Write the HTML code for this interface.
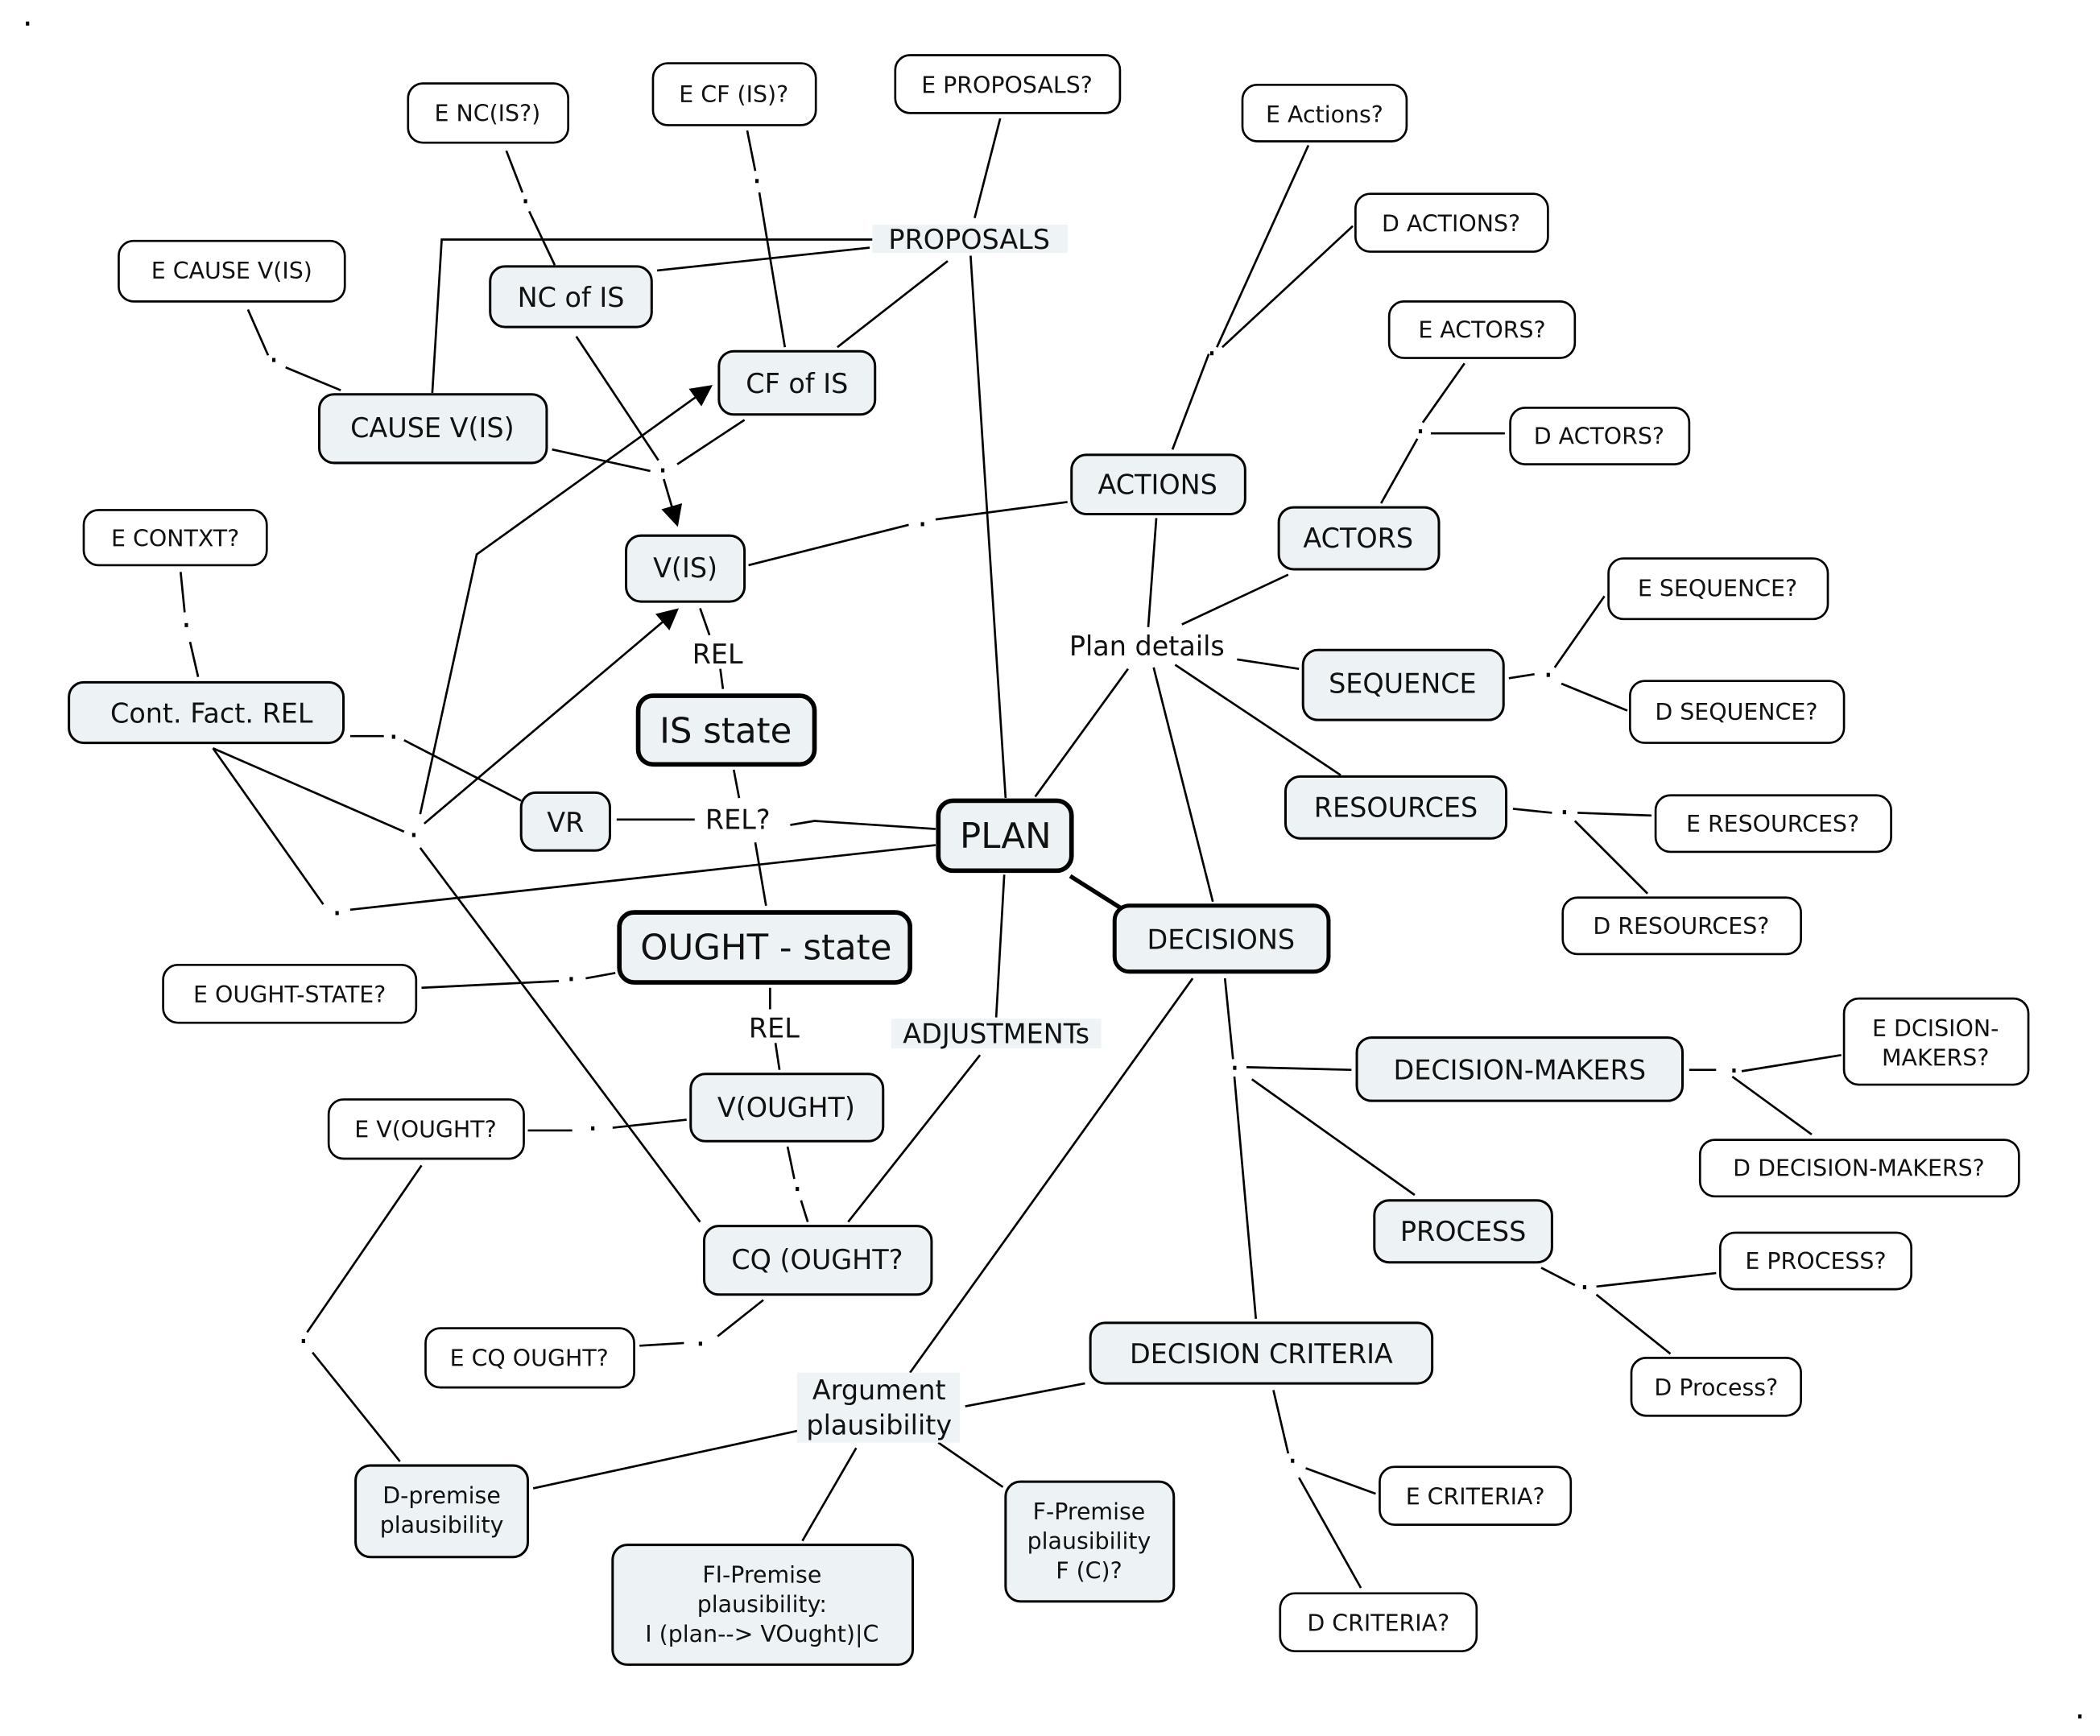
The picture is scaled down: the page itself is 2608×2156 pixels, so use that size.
<!DOCTYPE html>
<html><head><meta charset="utf-8"><style>
html,body{margin:0;padding:0;background:#fff;}
svg{display:block;}
text{font-family:"DejaVu Sans","Liberation Sans",sans-serif;fill:#111;}
</style></head><body>
<svg width="2608" height="2156" viewBox="0 0 1560 1290" xmlns="http://www.w3.org/2000/svg">
<defs><marker id="ar" viewBox="0 0 10 10" refX="9" refY="5" markerWidth="10" markerHeight="10" markerUnits="userSpaceOnUse" orient="auto"><path d="M0,0 L10,5 L0,10 z" fill="#000"/></marker>
<marker id="ar2" viewBox="0 0 10 10" refX="9" refY="5" markerWidth="22" markerHeight="16" markerUnits="userSpaceOnUse" orient="auto"><path d="M0,0 L10,5 L0,10 z" fill="#000"/></marker></defs>
<g stroke="#000" stroke-width="1.6" fill="none">
<path d="M376,112 L388,143 M393,157 L412,197"/>
<path d="M555,97 L561,127 M564,143 L583,258"/>
<path d="M743,88 L724,162"/>
<path d="M648,178 L328,178 L321,292"/>
<path d="M646,184 L488,201"/>
<path d="M704,194 L622,258"/>
<path d="M721,190 L747,593"/>
<path d="M184,230 L199,264 M212,273 L253,290"/>
<path d="M428,250 L489,342"/>
<path d="M410,334 L483,350"/>
<path d="M553,312 L503,345"/>
<path d="M493,356 L503,390" marker-end="url(#ar2)"/>
<path d="M312,605 L354,412 L528,287" marker-end="url(#ar2)"/>
<path d="M315,612 L503,453" marker-end="url(#ar2)"/>
<path d="M158,556 L300,618"/>
<path d="M260,547 L285,547 M300,550 L387,595"/>
<path d="M158,556 L240,672 M260,676 L695,628"/>
<path d="M312,630 L520,908"/>
<path d="M134,425 L137,455 M141,477 L147,503"/>
<path d="M556,420 L675,390 M695,386 L793,373"/>
<path d="M520,452 L527,472 M535,497 L537,512"/>
<path d="M545,572 L549,593 M561,626 L569,673"/>
<path d="M458,609 L516,609 M587,613 L605,610 L695,616"/>
<path d="M795,651 L833,675" stroke-width="3.2"/>
<path d="M769,592 L838,497"/>
<path d="M853,466 L859,385"/>
<path d="M878,464 L957,427"/>
<path d="M919,490 L965,497"/>
<path d="M873,494 L996,576"/>
<path d="M857,496 L901,670"/>
<path d="M871,334 L898,263 M904,258 L972,108 M908,258 L1005,168"/>
<path d="M1026,374 L1053,326 M1057,314 L1088,270 M1063,322 L1118,322"/>
<path d="M1121,504 L1140,501 M1155,496 L1192,443 M1160,508 L1209,528"/>
<path d="M1124,601 L1153,604 M1172,604 L1227,606 M1170,610 L1224,664"/>
<path d="M746,650 L740,756 M728,784 L630,908"/>
<path d="M572,734 L572,750 M576,775 L579,795"/>
<path d="M457,723 L435,727 M415,729 L313,734"/>
<path d="M510,832 L455,838 M425,840 L392,840"/>
<path d="M585,852 L590,876 M595,892 L600,908"/>
<path d="M567,966 L533,993 M508,998 L475,1000"/>
<path d="M313,866 L228,990 M232,1005 L297,1086"/>
<path d="M886,727 L676,1020"/>
<path d="M910,727 L916,787 M926,793 L1004,795 M930,802 L1051,888 M917,800 L933,980"/>
<path d="M1255,795 L1275,795 M1294,796 L1368,784 M1287,800 L1346,843"/>
<path d="M1145,942 L1170,955 M1186,956 L1275,946 M1186,962 L1241,1006"/>
<path d="M946,1033 L957,1080 M970,1091 L1022,1110 M965,1098 L1011,1180"/>
<path d="M717,1045 L806,1028 M598,1062 L396,1106 M636,1076 L596,1145 M697,1072 L745,1105"/>
</g>
<g fill="#000">
<rect x="389" y="148" width="2.5" height="3"/><rect x="561" y="133" width="2.5" height="3"/>
<rect x="202" y="266" width="2.5" height="3"/><rect x="491" y="348" width="2.5" height="3"/>
<rect x="306" y="619" width="2.5" height="3"/><rect x="291" y="546" width="2.5" height="3"/>
<rect x="249" y="677" width="2.5" height="3"/><rect x="137" y="463" width="2.5" height="3"/>
<rect x="684" y="388" width="2.5" height="3"/><rect x="899" y="261" width="2.5" height="3"/>
<rect x="1054" y="319" width="2.5" height="3"/><rect x="1149" y="500" width="2.5" height="3"/>
<rect x="1161" y="602" width="2.5" height="3"/><rect x="423" y="726" width="2.5" height="3"/>
<rect x="439" y="837" width="2.5" height="3"/><rect x="591" y="882" width="2.5" height="3"/>
<rect x="519" y="997" width="2.5" height="3"/><rect x="224" y="995" width="2.5" height="3"/>
<rect x="916" y="792" width="2.5" height="3"/><rect x="1287" y="794" width="2.5" height="3"/>
<rect x="1176" y="955" width="2.5" height="3"/><rect x="959" y="1084" width="2.5" height="3"/>
<rect x="19" y="16" width="2.5" height="3"/><rect x="1544" y="1274" width="2.5" height="3"/>
</g>
<!-- label backgrounds -->
<rect x="648" y="167" width="145" height="21" fill="#eef3f5"/>
<rect x="662" y="757" width="156" height="22" fill="#eef3f5"/>
<rect x="592" y="1020" width="121" height="52" fill="#eef3f5"/>
<g stroke="#000" stroke-width="1.6" fill="#fff">
<rect x="303" y="62" width="119" height="44" rx="11"/>
<rect x="485" y="47" width="121" height="46" rx="11"/>
<rect x="665" y="41" width="167" height="43" rx="11"/>
<rect x="923" y="63" width="122" height="42" rx="11"/>
<rect x="1007" y="144" width="143" height="43" rx="11"/>
<rect x="88" y="179" width="168" height="45" rx="11"/>
<rect x="1032" y="224" width="138" height="42" rx="11"/>
<rect x="1122" y="303" width="133" height="42" rx="11"/>
<rect x="62" y="379" width="136" height="41" rx="11"/>
<rect x="1195" y="415" width="163" height="45" rx="11"/>
<rect x="1211" y="506" width="159" height="46" rx="11"/>
<rect x="1230" y="591" width="175" height="42" rx="11"/>
<rect x="1161" y="667" width="177" height="42" rx="11"/>
<rect x="121" y="717" width="188" height="43" rx="11"/>
<rect x="1370" y="742" width="137" height="64" rx="11"/>
<rect x="244" y="817" width="145" height="44" rx="11"/>
<rect x="1263" y="847" width="237" height="42" rx="11"/>
<rect x="1278" y="916" width="142" height="42" rx="11"/>
<rect x="316" y="987" width="155" height="44" rx="11"/>
<rect x="1212" y="1009" width="126" height="43" rx="11"/>
<rect x="1025" y="1090" width="142" height="43" rx="11"/>
<rect x="951" y="1184" width="146" height="43" rx="11"/>
</g>
<g stroke="#000" stroke-width="1.8" fill="#edf3f5">
<rect x="364" y="198" width="120" height="45" rx="11"/>
<rect x="534" y="261" width="116" height="47" rx="11"/>
<rect x="237" y="293" width="169" height="51" rx="11"/>
<rect x="796" y="338" width="129" height="44" rx="11"/>
<rect x="950" y="377" width="119" height="46" rx="11"/>
<rect x="465" y="398" width="88" height="49" rx="11"/>
<rect x="968" y="483" width="149" height="52" rx="11"/>
<rect x="51" y="507" width="204" height="45" rx="11"/>
<rect x="955" y="577" width="164" height="46" rx="11"/>
<rect x="387" y="589" width="66" height="43" rx="11"/>
<rect x="1008" y="771" width="242" height="47" rx="11"/>
<rect x="513" y="798" width="143" height="50" rx="11"/>
<rect x="1021" y="892" width="132" height="46" rx="11"/>
<rect x="523" y="911" width="169" height="51" rx="11"/>
<rect x="810" y="983" width="254" height="45" rx="11"/>
<rect x="264" y="1089" width="128" height="68" rx="11"/>
<rect x="747" y="1101" width="125" height="89" rx="11"/>
<rect x="455" y="1148" width="223" height="89" rx="11"/>
</g>
<g stroke="#000" stroke-width="3.4" fill="#edf3f5">
<rect x="474" y="517" width="131" height="51" rx="11"/>
<rect x="697" y="595" width="99" height="52" rx="11"/>
<rect x="828" y="673" width="159" height="49" rx="11" stroke-width="3"/>
<rect x="460" y="678" width="216" height="52" rx="11"/>
</g>
<g font-size="17" text-anchor="middle">
<text x="362" y="90">E NC(IS?)</text>
<text x="545" y="76">E CF (IS)?</text>
<text x="748" y="69">E PROPOSALS?</text>
<text x="984" y="91">E Actions?</text>
<text x="1078" y="172">D ACTIONS?</text>
<text x="172" y="207">E  CAUSE V(IS)</text>
<text x="1101" y="251">E  ACTORS?</text>
<text x="1188" y="330">D ACTORS?</text>
<text x="130" y="406">E  CONTXT?</text>
<text x="1276" y="443">E SEQUENCE?</text>
<text x="1290" y="535">D SEQUENCE?</text>
<text x="1317" y="618">E RESOURCES?</text>
<text x="1249" y="694">D RESOURCES?</text>
<text x="215" y="745">E OUGHT-STATE?</text>
<text x="1438" y="770">E DCISION-</text>
<text x="1438" y="792">MAKERS?</text>
<text x="316" y="845">E V(OUGHT?</text>
<text x="1381" y="874">D DECISION-MAKERS?</text>
<text x="1349" y="943">E PROCESS?</text>
<text x="393" y="1015">E CQ OUGHT?</text>
<text x="1275" y="1037">D Process?</text>
<text x="1096" y="1118">E CRITERIA?</text>
<text x="1024" y="1212">D CRITERIA?</text>
<text x="328" y="1117">D-premise</text>
<text x="328" y="1139">plausibility</text>
<text x="809" y="1129">F-Premise</text>
<text x="809" y="1151">plausibility</text>
<text x="809" y="1173">F (C)?</text>
<text x="566" y="1176">FI-Premise</text>
<text x="566" y="1198">plausibility:</text>
<text x="566" y="1220">I (plan--&gt; VOught)|C</text>
</g>
<g font-size="20" text-anchor="middle">
<text x="720" y="185">PROPOSALS</text>
<text x="424" y="228">NC of IS</text>
<text x="592" y="292">CF of IS</text>
<text x="321" y="325">CAUSE V(IS)</text>
<text x="860" y="367">ACTIONS</text>
<text x="1009" y="407">ACTORS</text>
<text x="509" y="429">V(IS)</text>
<text x="852" y="487">Plan details</text>
<text x="533" y="493">REL</text>
<text x="1042" y="515">SEQUENCE</text>
<text x="157" y="537">Cont. Fact. REL</text>
<text x="1037" y="607">RESOURCES</text>
<text x="420" y="618">VR</text>
<text x="548" y="616">REL?</text>
<text x="907" y="705">DECISIONS</text>
<text x="575" y="771">REL</text>
<text x="740" y="775">ADJUSTMENTs</text>
<text x="1129" y="802">DECISION-MAKERS</text>
<text x="584" y="830">V(OUGHT)</text>
<text x="1087" y="922">PROCESS</text>
<text x="607" y="943">CQ (OUGHT?</text>
<text x="937" y="1013">DECISION CRITERIA</text>
<text x="653" y="1040">Argument</text>
<text x="653" y="1066">plausibility</text>
</g>
<g font-size="26" text-anchor="middle">
<text x="539" y="552">IS state</text>
<text x="747" y="630">PLAN</text>
<text x="569" y="713">OUGHT - state</text>
</g>
</svg>
</body></html>
